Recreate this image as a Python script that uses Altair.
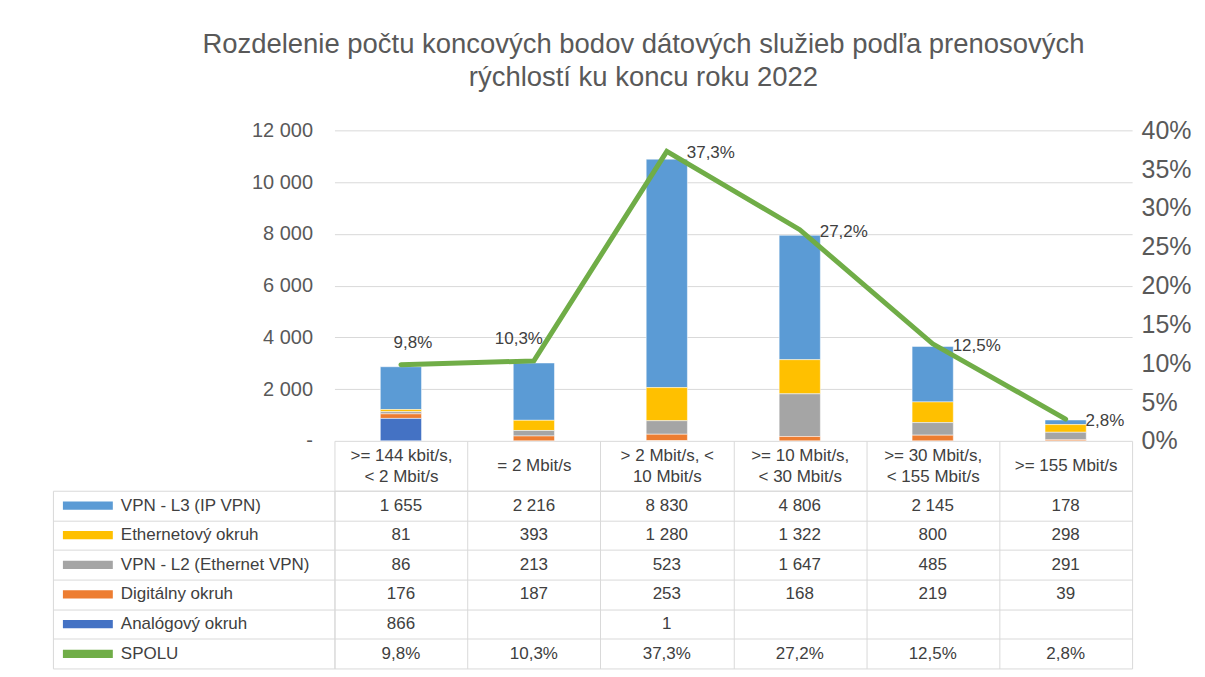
import altair as alt
import pandas as pd

FONT = "Liberation Sans"

categories = [
    ">= 144 kbit/s,\n< 2 Mbit/s",
    "= 2 Mbit/s",
    "> 2 Mbit/s, <\n10 Mbit/s",
    ">= 10 Mbit/s,\n< 30 Mbit/s",
    ">= 30 Mbit/s,\n< 155 Mbit/s",
    ">= 155 Mbit/s",
]
series = [
    "VPN - L3 (IP VPN)",
    "Ethernetový okruh",
    "VPN - L2 (Ethernet VPN)",
    "Digitálny okruh",
    "Analógový okruh",
]
vpn_l3 = [1655, 2216, 8830, 4806, 2145, 178]
ethernet = [81, 393, 1280, 1322, 800, 298]
vpn_l2 = [86, 213, 523, 1647, 485, 291]
digital = [176, 187, 253, 168, 219, 39]
analog = [866, None, 1, None, None, None]
spolu = [9.8, 10.3, 37.3, 27.2, 12.5, 2.8]
total_label = "SPOLU"
colors = ["#5B9BD5", "#FFC000", "#A5A5A5", "#ED7D31", "#4472C4", "#70AD47"]

series_values = [vpn_l3, ethernet, vpn_l2, digital, analog]
rows = series + [total_label]


def fmt_int(v):
    return "" if v is None else f"{v:,}".replace(",", " ")


def fmt_pct(v):
    return f"{v:.1f}".replace(".", ",") + "%"


bar_records = []
for i, (s, vals) in enumerate(zip(series, series_values)):
    for c, v in zip(categories, vals):
        if v is not None:
            bar_records.append({"cat": c, "series": s, "value": v, "stack": len(series) - 1 - i})
bar_df = pd.DataFrame(bar_records)

line_df = pd.DataFrame({"cat": categories, "pct": spolu, "label": [fmt_pct(v) for v in spolu]})

table_records = []
for s, vals in zip(series, series_values):
    for c, v in zip(categories, vals):
        table_records.append({"cat": c, "row": s, "txt": fmt_int(v)})
for c, v in zip(categories, spolu):
    table_records.append({"cat": c, "row": total_label, "txt": fmt_pct(v)})
table_df = pd.DataFrame(table_records)

GRID = "#D9D9D9"
TXT = "#404040"
AX = "#595959"
CLEAR = "transparent"
NO_VIEW = alt.ViewBackground(stroke=CLEAR, strokeWidth=0)

x_top = alt.X(
    "cat:N", sort=categories,
    scale=alt.Scale(paddingInner=0, paddingOuter=0),
    axis=alt.Axis(labels=False, ticks=False, title=None, domain=False, grid=False),
)

bars = alt.Chart(bar_df).mark_bar(
    width=alt.RelativeBandSize(0.31), stroke="white", strokeWidth=0.5
).encode(
    x=x_top,
    y=alt.Y(
        "value:Q", stack="zero",
        scale=alt.Scale(domain=[0, 12000], nice=False),
        axis=alt.Axis(
            values=list(range(0, 12001, 2000)),
            labelExpr="datum.value == 0 ? '-' : replace(format(datum.value, ','), ',', ' ')",
            title=None, domain=False, ticks=False, gridColor=GRID,
            labelFontSize=20, labelColor=AX, labelPadding=22, labelFont=FONT,
        ),
    ),
    color=alt.Color(
        "series:N",
        scale=alt.Scale(domain=rows, range=colors),
        legend=alt.Legend(
            orient="none", legendX=-259.5, legendY=363.3, title=None,
            symbolType="M-2,-0.33H2V0.33H-2Z", symbolSize=625,
            labelFontSize=17, labelColor=TXT, labelFont=FONT, labelOffset=20.5,
            rowPadding=8.7, padding=0, labelLimit=400,
            symbolStrokeWidth=0, symbolOpacity=1,
        ),
    ),
    order=alt.Order("stack:Q", sort="ascending"),
)

y_pct = alt.Y(
    "pct:Q",
    scale=alt.Scale(domain=[0, 40], nice=False),
    axis=alt.Axis(
        orient="right", values=list(range(0, 41, 5)),
        labelExpr="datum.value + '%'", title=None,
        domain=False, ticks=False,
        grid=False, labelFontSize=25, labelColor=AX, labelPadding=9, labelFont=FONT,
    ),
)
x_line = alt.X("cat:N", sort=categories)

line = alt.Chart(line_df).mark_line(
    color="#70AD47", strokeWidth=5, strokeCap="round"
).encode(x=x_line, y=y_pct)

lab_a = alt.Chart(line_df).transform_filter(
    alt.FieldEqualPredicate(field="cat", equal=categories[0])
).mark_text(align="center", baseline="bottom", dx=12, dy=-13, fontSize=17, color=TXT, font=FONT).encode(
    x=x_line, y=y_pct, text="label:N")
lab_b = alt.Chart(line_df).transform_filter(
    alt.FieldEqualPredicate(field="cat", equal=categories[1])
).mark_text(align="center", baseline="bottom", dx=-15, dy=-13, fontSize=17, color=TXT, font=FONT).encode(
    x=x_line, y=y_pct, text="label:N")
lab_c = alt.Chart(line_df).transform_filter(
    alt.FieldOneOfPredicate(field="cat", oneOf=categories[2:])
).mark_text(align="left", baseline="middle", dx=20, dy=2, fontSize=17, color=TXT, font=FONT).encode(
    x=x_line, y=y_pct, text="label:N")

top = alt.layer(
    bars, alt.layer(line, lab_a, lab_b, lab_c),
).resolve_scale(y="independent").properties(width=799, height=311, view=NO_VIEW)

x_body = alt.X(
    "cat:N", sort=categories,
    scale=alt.Scale(paddingInner=0, paddingOuter=0),
    axis=alt.Axis(
        orient="top", title=None, labelExpr="split(datum.label, '\\n')",
        labelAngle=0, labelFontSize=17, labelColor=TXT, labelFont=FONT,
        labelLineHeight=21, labelBaseline="middle",
        labelPadding={"condition": {"test": "indexof(datum.label, '\\n') >= 0", "value": -15}, "value": -25},
        tickBand="extent", tickSize=50, tickColor=GRID, domain=True, domainColor=GRID,
        grid=True, gridColor=GRID, labelLimit=300,
    ),
)

body_text = alt.Chart(table_df).mark_text(fontSize=17, color=TXT, font=FONT).encode(
    x=x_body,
    y=alt.Y(
        "row:N", sort=rows,
        scale=alt.Scale(paddingInner=0, paddingOuter=0),
        axis=alt.Axis(
            orient="left", title=None, labels=False, tickBand="extent",
            tickSize=282, tickColor=GRID, domain=True, domainColor=GRID,
            grid=True, gridColor=GRID,
        ),
    ),
    text="txt:N",
)

border = alt.Chart(table_df).mark_text(opacity=0, fontSize=17).encode(
    x=x_body,
    y=alt.Y(
        "row:N", sort=rows,
        scale=alt.Scale(paddingInner=0, paddingOuter=0),
        axis=alt.Axis(
            orient="left", offset=282, title=None, labels=False, ticks=False,
            grid=False, domain=True, domainColor=GRID,
        ),
    ),
    text="txt:N",
)

body = alt.layer(body_text, border).resolve_scale(y="independent").properties(
    width=799, height=178, view=NO_VIEW
)

chart = alt.vconcat(
    top, body, spacing=50, bounds="flush",
    title=alt.Title(
        ["Rozdelenie počtu koncových bodov dátových služieb podľa prenosových",
         "rýchlostí ku koncu roku 2022"],
        fontSize=27.5, color=AX, font=FONT, fontWeight="normal",
        anchor="middle", frame="group", dx=-90, offset=27, lineHeight=33,
    ),
).resolve_legend(color="independent").properties(
    padding={"left": 44, "top": 22, "right": 5, "bottom": 5},
    background="white",
).configure_view(
    stroke=CLEAR, strokeWidth=0
).configure_axisY(domain=False).configure(
    font=FONT, style={"cell": {"stroke": CLEAR, "strokeWidth": 0}}
)

chart.save("out.html", embed_options={"renderer": "svg", "actions": False})
